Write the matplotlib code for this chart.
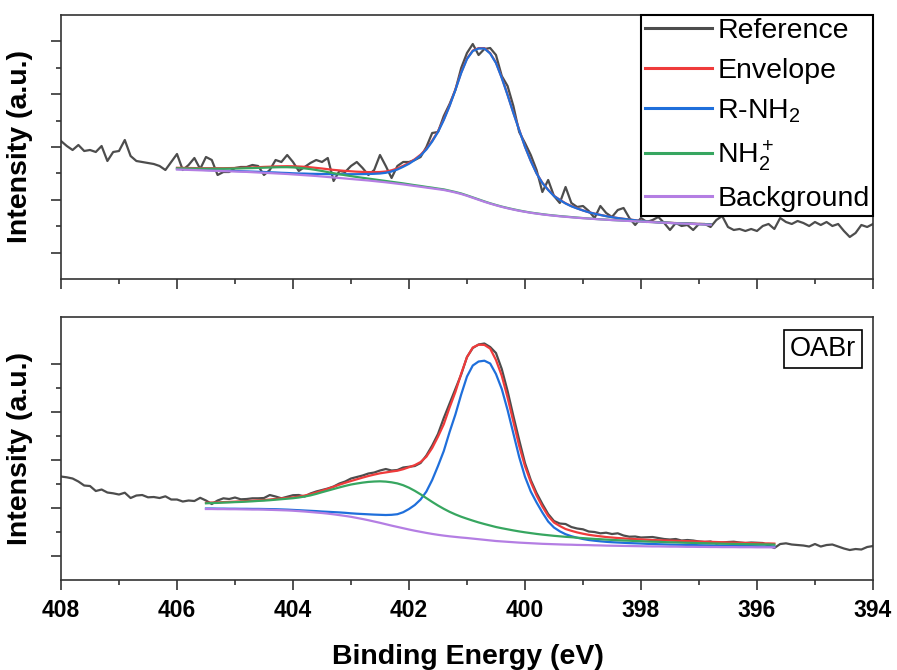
import numpy as np
import matplotlib
matplotlib.use("Agg")
import matplotlib.pyplot as plt

plt.rcParams["font.family"] = "Liberation Sans"
plt.rcParams["mathtext.fontset"] = "custom"
plt.rcParams["mathtext.rm"] = "Liberation Sans"
plt.rcParams["mathtext.it"] = "Liberation Sans:italic"
plt.rcParams["mathtext.bf"] = "Liberation Sans:bold"

# binding energy grids (eV), spectra recorded in 0.1 eV steps
ref_energy = np.round(np.arange(408.0, 393.95, -0.1), 1)
top_fit_energy = np.round(np.arange(406.0, 396.75, -0.1), 1)
bot_fit_energy = np.round(np.arange(405.5, 395.65, -0.1), 1)

# ---- top panel (reference sample) ----
top_reference = [
    138, 133, 129, 134, 128, 129, 127, 133, 118, 127,
    128, 139, 123, 118, 117, 116, 115, 113, 109, 117,
    125, 109, 114, 121, 110, 122, 119, 104, 107, 107,
    111, 112, 112, 114, 113, 104, 109, 119, 117, 124,
    117, 108, 112, 116, 119, 117, 121, 98, 108, 107,
    113, 117, 111, 104, 109, 124, 113, 101, 113, 117,
    117, 119, 122, 132, 146, 147, 163, 175, 189, 211,
    226, 235, 224, 230, 231, 224, 203, 193, 173, 147,
    136, 124, 109, 87, 99, 83, 76, 92, 76, 72,
    73, 68, 61, 73, 66, 62, 69, 71, 61, 54,
    61, 57, 59, 62, 56, 49, 56, 53, 54, 49,
    55, 55, 52, 59, 63, 52, 49, 50, 48, 50,
    48, 53, 55, 50, 61, 57, 55, 58, 56, 53,
    57, 54, 57, 53, 55, 48, 42, 46, 54, 52,
    55,
]
top_envelope = [
    111.2, 111.1, 111.0, 110.9, 110.8, 110.8, 110.8, 110.8, 110.8, 110.9,
    111.0, 111.1, 111.3, 111.5, 111.8, 112.1, 112.3, 112.6, 112.7, 112.8,
    112.7, 112.5, 112.2, 111.7, 111.1, 110.5, 109.8, 109.1, 108.6, 108.1,
    107.7, 107.3, 107.1, 106.9, 106.9, 107.0, 107.5, 108.7, 110.6, 113.2,
    116.1, 119.8, 124.3, 130.2, 138.2, 147.6, 159.6, 173.5, 189.5, 206.5,
    220.4, 228.4, 230.9, 230.9, 225.8, 216.3, 201.3, 184.3, 166.3, 149.3,
    132.5, 118.2, 105.7, 96.2, 89.2, 83.2, 79.2, 75.7, 72.9, 70.7,
    68.6, 66.8, 65.4, 64.1, 62.9, 61.9, 61.0, 60.2, 59.5, 58.8,
    58.1, 57.6, 57.2, 56.8, 56.5, 56.2, 55.9, 55.7, 55.5, 55.3,
    55.1, 54.9, 54.7,
]
top_rnh2 = [
    110.0, 109.8, 109.6, 109.4, 109.2, 109.0, 108.8, 108.6, 108.4, 108.2,
    108.0, 107.8, 107.6, 107.4, 107.2, 107.0, 106.7, 106.5, 106.2, 106.0,
    105.7, 105.5, 105.4, 105.2, 105.1, 105.0, 104.9, 104.8, 104.8, 104.8,
    104.8, 104.8, 104.9, 105.0, 105.2, 105.5, 106.2, 107.5, 109.5, 112.2,
    115.2, 119.0, 123.5, 129.5, 137.5, 147.0, 159.0, 173.0, 189.0, 206.0,
    220.0, 228.0, 230.5, 230.5, 225.5, 216.0, 201.0, 184.0, 166.0, 149.0,
    132.3, 118.0, 105.5, 96.0, 89.0, 83.0, 79.0, 75.5, 72.7, 70.5,
    68.5, 66.7, 65.3, 64.0, 62.8, 61.8, 60.9, 60.1, 59.4, 58.7,
    58.0, 57.5, 57.1, 56.7, 56.4, 56.1, 55.8, 55.6, 55.4, 55.2,
    55.0, 54.8, 54.6,
]
top_nh2 = [
    110.7, 110.6, 110.5, 110.4, 110.3, 110.3, 110.3, 110.3, 110.3, 110.4,
    110.5, 110.6, 110.8, 110.9, 111.1, 111.3, 111.5, 111.7, 111.8, 111.8,
    111.6, 111.2, 110.6, 109.9, 109.0, 108.0, 106.9, 105.8, 104.8, 103.8,
    102.9, 102.0, 101.2, 100.4, 99.6, 98.8, 98.0, 97.2, 96.4, 95.6,
    94.7, 93.8, 93.0, 92.1, 91.3, 90.4, 89.6, 88.3, 87.0, 85.5,
    83.6, 81.6, 79.6, 77.6, 75.7, 74.0, 72.4, 71.0, 69.7, 68.5,
    67.4, 66.4, 65.6, 64.8, 64.1, 63.5, 62.9, 62.4, 61.9, 61.4,
    60.9, 60.5, 60.1, 59.7, 59.4, 59.0, 58.7, 58.4, 58.1, 57.8,
    57.5, 57.2, 56.9, 56.6, 56.4, 56.1, 55.8, 55.6, 55.3, 55.1,
    54.8, 54.6, 54.3,
]
top_background = [
    109.5, 109.3, 109.1, 108.9, 108.7, 108.5, 108.3, 108.1, 107.9, 107.7,
    107.5, 107.3, 107.1, 106.8, 106.5, 106.2, 105.9, 105.6, 105.3, 105.0,
    104.6, 104.2, 103.8, 103.4, 103.0, 102.5, 102.0, 101.5, 101.0, 100.5,
    100.0, 99.5, 99.0, 98.5, 97.9, 97.3, 96.7, 96.0, 95.3, 94.6,
    93.8, 93.0, 92.2, 91.4, 90.6, 89.8, 89.0, 87.8, 86.5, 85.0,
    83.2, 81.2, 79.2, 77.2, 75.4, 73.7, 72.1, 70.7, 69.4, 68.2,
    67.2, 66.2, 65.4, 64.6, 63.9, 63.3, 62.7, 62.2, 61.7, 61.2,
    60.8, 60.4, 60.0, 59.6, 59.3, 58.9, 58.6, 58.3, 58.0, 57.7,
    57.4, 57.1, 56.8, 56.5, 56.3, 56.0, 55.7, 55.5, 55.2, 55.0,
    54.7, 54.5, 54.2,
]

# ---- bottom panel (OABr) ----
bot_reference = [
    103.5, 102.7, 101.5, 98.5, 94.5, 94.0, 89.0, 90.5, 87.5, 86.7,
    85.5, 87.3, 82.0, 84.5, 85.0, 82.7, 83.0, 82.0, 83.7, 80.5,
    80.5, 78.5, 79.5, 79.0, 82.2, 79.5, 76.0, 79.5, 81.7, 81.0,
    82.5, 80.7, 81.0, 81.7, 81.7, 82.0, 85.0, 83.5, 81.7, 83.3,
    84.8, 85.0, 83.5, 86.5, 88.5, 90.0, 91.5, 93.5, 96.5, 98.5,
    101.5, 103.0, 104.5, 106.5, 107.5, 109.5, 111.0, 109.5, 110.0, 112.5,
    113.3, 114.0, 117.0, 124.5, 134.5, 146.0, 162.0, 176.5, 191.0, 205.5,
    223.0, 232.0, 235.5, 236.5, 233.0, 227.0, 211.0, 189.0, 164.0, 140.0,
    117.0, 100.0, 87.0, 76.0, 66.0, 59.0, 56.5, 56.0, 53.0, 51.5,
    50.7, 48.5, 48.0, 46.7, 47.3, 46.0, 46.7, 44.5, 43.3, 43.5,
    42.5, 42.7, 43.0, 42.0, 41.0, 40.5, 41.0, 39.5, 40.0, 39.5,
    38.5, 38.0, 38.5, 36.5, 37.5, 38.0, 38.3, 37.5, 37.0, 37.5,
    37.3, 37.0, 34.5, 32.0, 36.0, 36.7, 35.5, 35.0, 34.5, 33.5,
    36.0, 33.5, 35.0, 35.5, 33.5, 31.5, 30.0, 31.0, 30.5, 33.0,
    34.0,
]
bot_envelope = [
    77.2, 77.5, 77.6, 77.9, 78.1, 78.4, 78.6, 79.0, 79.3, 79.7,
    80.0, 80.5, 81.1, 81.6, 82.1, 82.6, 83.4, 84.5, 85.8, 87.5,
    89.3, 91.2, 93.2, 95.3, 97.2, 99.0, 100.7, 102.4, 104.0, 105.4,
    106.7, 107.6, 108.5, 109.3, 110.8, 112.8, 114.9, 118.0, 123.3, 132.0,
    143.3, 155.8, 172.5, 188.0, 206.3, 222.8, 232.5, 235.3, 235.1, 231.4,
    220.0, 204.2, 182.5, 158.3, 134.2, 113.9, 98.0, 84.5, 73.5, 64.0,
    57.5, 54.0, 51.0, 49.2, 47.6, 46.3, 45.2, 44.4, 43.7, 43.0,
    42.5, 42.0, 41.6, 41.2, 40.9, 40.6, 40.3, 40.0, 39.8, 39.6,
    39.4, 39.2, 39.0, 38.9, 38.7, 38.5, 38.3, 38.2, 38.0, 37.8,
    37.6, 37.4, 37.3, 37.1, 36.9, 36.8, 36.6, 36.6, 36.4,
]
bot_rnh2 = [
    71.5, 71.5, 71.4, 71.4, 71.3, 71.3, 71.2, 71.2, 71.1, 71.1,
    71.0, 70.9, 70.8, 70.6, 70.4, 70.1, 69.8, 69.5, 69.2, 68.9,
    68.5, 68.2, 67.9, 67.6, 67.2, 66.7, 66.3, 66.0, 65.7, 65.4,
    65.2, 65.0, 65.2, 65.8, 67.8, 71.0, 75.0, 80.5, 88.5, 100.0,
    114.0, 129.0, 148.0, 165.5, 185.5, 203.5, 214.5, 218.5, 219.3, 216.5,
    206.0, 191.0, 170.0, 146.5, 123.0, 103.3, 88.5, 77.5, 67.5, 58.5,
    52.5, 48.7, 45.8, 43.8, 42.3, 41.0, 40.0, 39.3, 38.7, 38.2,
    37.8, 37.5, 37.2, 36.9, 36.7, 36.5, 36.2, 36.0, 35.8, 35.6,
    35.4, 35.3, 35.2, 35.1, 35.0, 34.8, 34.7, 34.6, 34.5, 34.4,
    34.3, 34.2, 34.1, 34.0, 33.9, 33.8, 33.7, 33.7, 33.6,
]
bot_nh2 = [
    76.7, 77.0, 77.1, 77.4, 77.6, 77.9, 78.1, 78.4, 78.7, 79.1,
    79.4, 79.8, 80.3, 80.8, 81.3, 81.8, 82.5, 83.5, 84.6, 86.1,
    87.8, 89.4, 91.0, 92.6, 94.1, 95.5, 96.5, 97.4, 98.1, 98.5,
    98.7, 98.4, 97.7, 96.6, 94.8, 92.3, 89.2, 85.7, 81.9, 78.1,
    74.5, 71.2, 68.2, 65.6, 63.3, 61.3, 59.4, 57.6, 56.0, 54.5,
    53.0, 51.8, 50.7, 49.6, 48.6, 47.7, 46.9, 46.1, 45.4, 44.8,
    44.2, 43.7, 43.2, 42.8, 42.3, 41.9, 41.5, 41.1, 40.8, 40.4,
    40.1, 39.8, 39.5, 39.3, 39.0, 38.8, 38.5, 38.3, 38.2, 37.9,
    37.7, 37.6, 37.4, 37.2, 37.1, 36.9, 36.8, 36.6, 36.5, 36.3,
    36.2, 36.1, 36.0, 35.9, 35.8, 35.7, 35.6, 35.6, 35.4,
]
bot_background = [
    71.0, 71.0, 70.9, 70.9, 70.8, 70.8, 70.7, 70.6, 70.5, 70.5,
    70.4, 70.2, 70.0, 69.8, 69.6, 69.3, 68.9, 68.5, 68.0, 67.5,
    67.0, 66.4, 65.7, 64.9, 64.1, 63.2, 62.1, 61.0, 59.8, 58.5,
    57.2, 55.8, 54.4, 53.1, 51.8, 50.5, 49.3, 48.2, 47.1, 46.1,
    45.2, 44.4, 43.7, 43.1, 42.5, 42.0, 41.4, 40.8, 40.2, 39.6,
    39.0, 38.6, 38.2, 37.8, 37.4, 37.1, 36.8, 36.5, 36.2, 36.0,
    35.8, 35.6, 35.4, 35.3, 35.1, 35.0, 34.9, 34.7, 34.6, 34.4,
    34.3, 34.2, 34.1, 34.0, 33.9, 33.8, 33.7, 33.6, 33.6, 33.5,
    33.4, 33.4, 33.3, 33.2, 33.2, 33.1, 33.1, 33.0, 33.0, 32.9,
    32.9, 32.9, 32.8, 32.8, 32.8, 32.7, 32.7, 32.7, 32.6,
]

labels = ["Reference", "Envelope", "R-NH$_2$", "NH$_2^+$", "Background"]
colors = ["#4d4d4d", "#ef3b3b", "#1f6fdb", "#37a660", "#b47ee3"]
x_ticks = [408, 406, 404, 402, 400, 398, 396, 394]

fig = plt.figure(figsize=(8.97, 6.70), dpi=100)
ax1 = fig.add_axes([0.068, 0.5836, 0.9052, 0.3940])
ax2 = fig.add_axes([0.068, 0.1343, 0.9052, 0.3930])

panels = [
    (ax1, top_reference, top_fit_energy,
     [top_envelope, top_rnh2, top_nh2, top_background], 52.8, 264.0),
    (ax2, bot_reference, bot_fit_energy,
     [bot_envelope, bot_rnh2, bot_nh2, bot_background], 48.1, 263.3),
]

for ax, ref, fit_e, fits, step, ytop in panels:
    ax.plot(ref_energy, ref, color=colors[0], lw=1.6, label=labels[0])
    for curve, col, lab in zip(fits, colors[1:], labels[1:]):
        ax.plot(fit_e, curve, color=col, lw=1.6, label=lab)

    ax.set_xlim(408, 394)
    ax.set_ylim(0, ytop)
    ax.set_xticks(x_ticks)
    ax.set_xticks(np.arange(407, 394, -2), minor=True)
    ax.set_yticks([step * (k + 0.5) for k in range(5)])
    ax.set_yticks([step * k for k in range(1, 5)], minor=True)
    ax.set_yticklabels([])
    ax.tick_params(which="major", direction="out", length=7, width=1.2,
                   color="#333333", top=False, right=False)
    ax.tick_params(which="minor", direction="out", length=3.6, width=1.2,
                   color="#333333", top=False, right=False)
    for sp in ax.spines.values():
        sp.set_linewidth(1.2)
        sp.set_color("#333333")
    ax.set_ylabel("Intensity (a.u.)", fontsize=20.5, fontweight="bold")
    ax.yaxis.set_label_coords(-0.034, 0.5)

ax1.tick_params(axis="x", labelbottom=False)
ax2.tick_params(axis="x", labelsize=16.5, pad=7)
for lab in ax2.get_xticklabels():
    lab.set_fontweight("bold")

leg = ax1.legend(loc="upper right", bbox_to_anchor=(1.0, 1.0), borderaxespad=0,
                 fontsize=20.5, fancybox=False, edgecolor="black", framealpha=1,
                 handlelength=2.35, handletextpad=0.2, borderpad=0.12,
                 labelspacing=0.47)
leg.get_frame().set_linewidth(1.5)
for line in leg.get_lines():
    line.set_linewidth(2.2)

ax2.text(0.938, 0.877, "OABr", transform=ax2.transAxes, ha="center",
         va="center", fontsize=19.5,
         bbox=dict(boxstyle="square,pad=0.22", fc="white", ec="black", lw=1.2))

fig.text(468 / 897, 0.009, "Binding Energy (eV)", ha="center", va="baseline",
         fontsize=20.5, fontweight="bold")

fig.savefig("out.png", dpi=100)
